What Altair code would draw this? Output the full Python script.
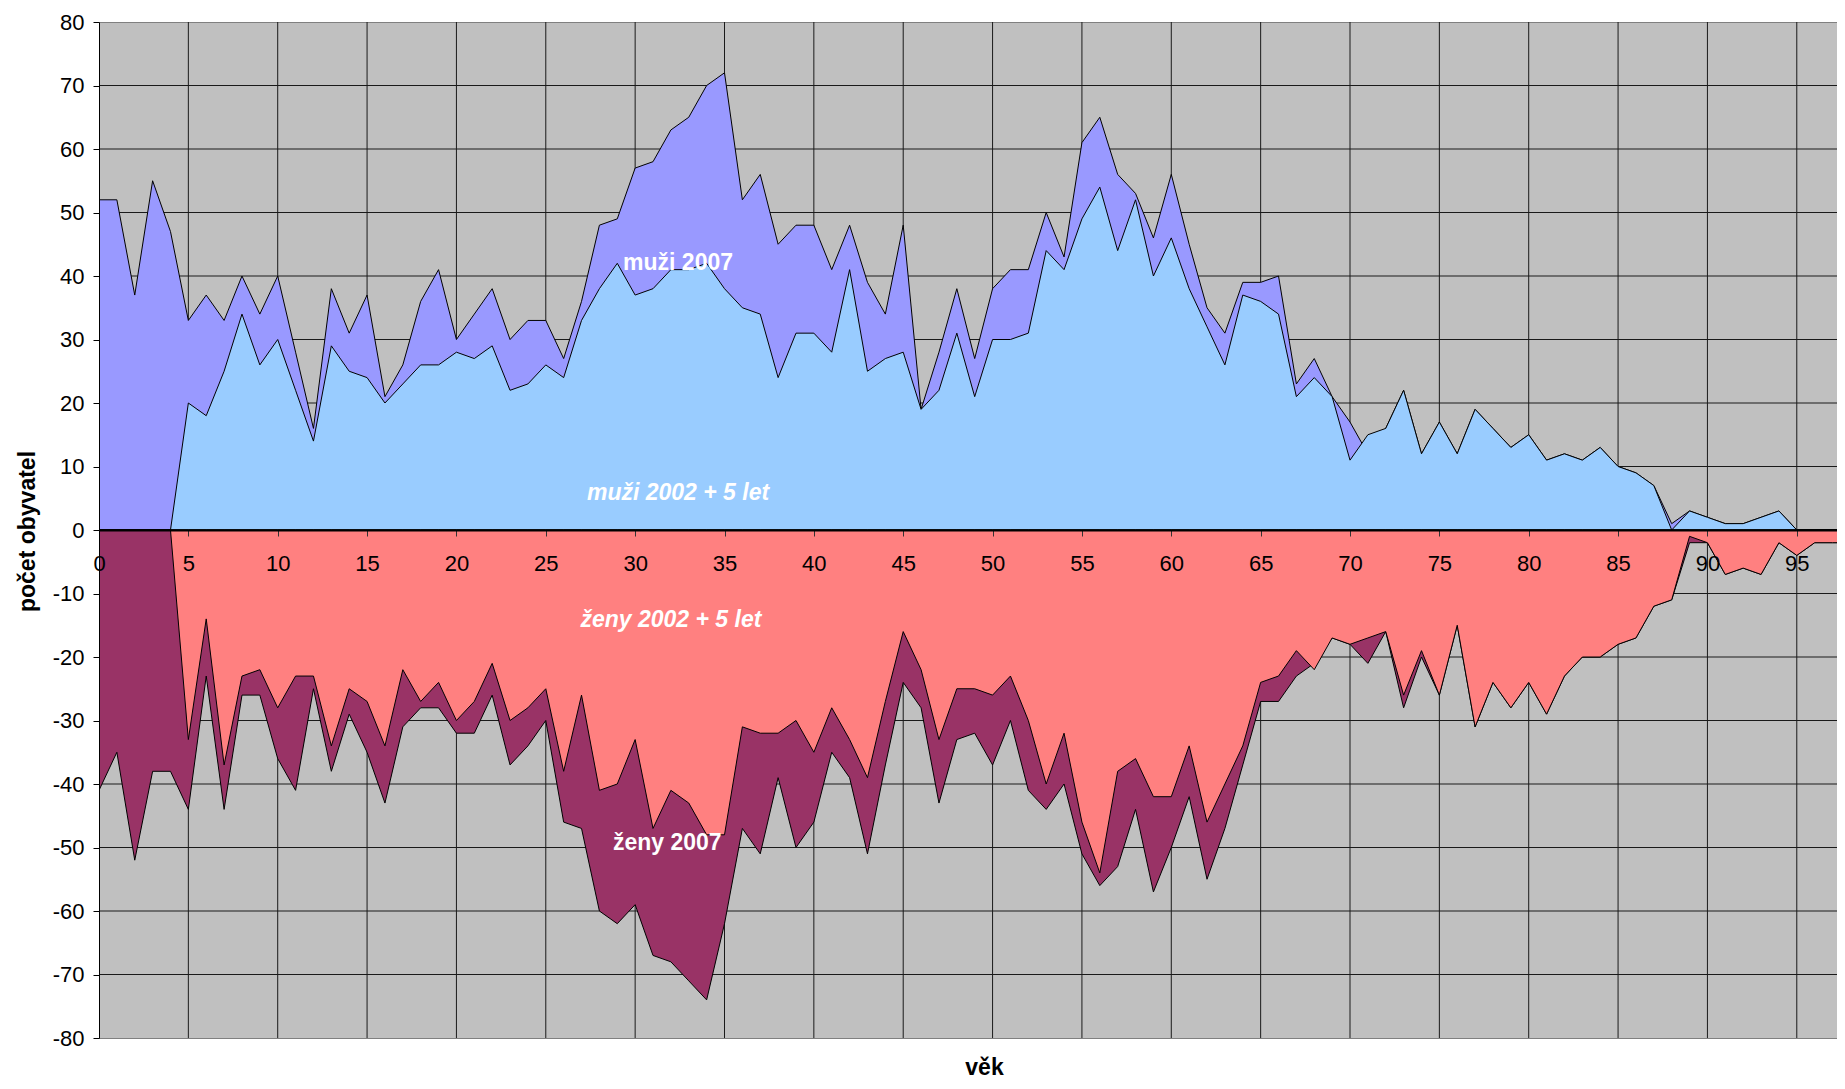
import altair as alt
import pandas as pd

ages = list(range(99))

muzi_2007 = [52, 52, 37, 55, 47, 33, 37, 33, 40, 34, 40, 28, 16, 38, 31, 37, 21, 26, 36, 41,
             30, 34, 38, 30, 33, 33, 27, 36, 48, 49, 57, 58, 63, 65, 70, 72, 52, 56, 45, 48,
             48, 41, 48, 39, 34, 48, 19, 28, 38, 27, 38, 41, 41, 50, 43, 61, 65, 56, 53, 46,
             56, 45, 35, 31, 39, 39, 40, 23, 27, 21, 17, 12, 16, 22, 12, 17, 12, 19, 16, 13,
             15, 11, 12, 11, 13, 10, 9, 7, 1, 3, 2, 1, 1, 2, 3, 0, 0, 0, 0]

muzi_2002_5 = [0, 0, 0, 0, 0, 20, 18, 25, 34, 26, 30, 22, 14, 29, 25, 24, 20, 23, 26, 26,
               28, 27, 29, 22, 23, 26, 24, 33, 38, 42, 37, 38, 41, 41, 42, 38, 35, 34, 24, 31,
               31, 28, 41, 25, 27, 28, 19, 22, 31, 21, 30, 30, 31, 44, 41, 49, 54, 44, 52, 40,
               46, 38, 32, 26, 37, 36, 34, 21, 24, 21, 11, 15, 16, 22, 12, 17, 12, 19, 16, 13,
               15, 11, 12, 11, 13, 10, 9, 7, 0, 3, 2, 1, 1, 2, 3, 0, 0, 0, 0]

zeny_2007 = [-41, -35, -52, -38, -38, -44, -23, -44, -26, -26, -36, -41, -25, -38, -29, -35, -43, -31, -28, -28,
             -32, -32, -26, -37, -34, -30, -46, -47, -60, -62, -59, -67, -68, -71, -74, -62, -47, -51, -39, -50,
             -46, -35, -39, -51, -37, -24, -28, -43, -33, -32, -37, -30, -41, -44, -40, -51, -56, -53, -44, -57,
             -50, -42, -55, -47, -37, -27, -27, -23, -21, -17, -18, -21, -16, -28, -20, -26, -15, -31, -24, -28,
             -24, -29, -23, -20, -20, -18, -17, -12, -11, -2, -2, -7, -6, -7, -2, -4, -2, -2, -2]

zeny_2002_5 = [0, 0, 0, 0, 0, -33, -14, -37, -23, -22, -28, -23, -23, -34, -25, -27, -34, -22, -27, -24,
               -30, -27, -21, -30, -28, -25, -38, -26, -41, -40, -33, -47, -41, -43, -48, -48, -31, -32, -32, -30,
               -35, -28, -33, -39, -27, -16, -22, -33, -25, -25, -26, -23, -30, -40, -32, -46, -54, -38, -36, -42,
               -42, -34, -46, -40, -34, -24, -23, -19, -22, -17, -18, -17, -16, -26, -19, -26, -15, -31, -24, -28,
               -24, -29, -23, -20, -20, -18, -17, -12, -11, -1, -2, -7, -6, -7, -2, -4, -2, -2, -2]

x_ticks = list(range(0, 96, 5))
y_ticks = list(range(-80, 81, 10))

label_text = ["muži 2007", "muži 2002 + 5 let", "ženy 2002 + 5 let", "ženy 2007"]
label_age = [32.4, 32.4, 32.0, 31.8]
label_value = [40.9, 4.8, -15.3, -50.4]
label_style = ["normal", "italic", "italic", "normal"]

FONT = "Liberation Sans"
W, H = 1738, 1016

xscale = alt.Scale(domain=[0, 97.25], nice=False, zero=False)
yscale = alt.Scale(domain=[-80, 80], nice=False)

xaxis = alt.Axis(values=x_ticks, grid=False, offset=-H / 2, zindex=1,
                 domainColor="black", domainWidth=2,
                 tickColor="#333333", tickSize=6, tickWidth=1,
                 labelFont=FONT, labelFontSize=22, labelColor="black",
                 labelBaseline="middle", labelPadding=27, labelAngle=0,
                 labelFlush=False, labelOverlap=False,
                 labelExpr="'' + datum.value",
                 title="věk", titleFont=FONT, titleFontSize=23, titleFontWeight="bold",
                 titleColor="black", titleX=885, titleY=544, titleBaseline="alphabetic",
                 titleAlign="center")

yaxis = alt.Axis(values=y_ticks, grid=False, zindex=1,
                 domainColor="black", domainWidth=1,
                 tickColor="black", tickSize=6, tickWidth=1,
                 labelFont=FONT, labelFontSize=22, labelColor="black",
                 labelPadding=9, labelFlush=False, labelOverlap=False,
                 labelExpr="'' + datum.value",
                 title="počet obyvatel", titleFont=FONT, titleFontSize=23,
                 titleFontWeight="bold", titleColor="black", titleAngle=270,
                 titleX=-72, titleY=H / 2 + 1, titleBaseline="middle", titleAlign="center")

X = alt.X("age:Q", scale=xscale, axis=xaxis)
Y = alt.Y("value:Q", scale=yscale, axis=yaxis)

vgrid = alt.Chart(pd.DataFrame({"age": x_ticks[1:]})).mark_rule(
    color="#1a1a1a", strokeWidth=1).encode(x=X)
hgrid = alt.Chart(pd.DataFrame({"value": y_ticks[1:-1]})).mark_rule(
    color="#1a1a1a", strokeWidth=1).encode(y=Y)


def area(values, color):
    df = pd.DataFrame({"age": ages, "value": values})
    return alt.Chart(df).mark_area(color=color, opacity=1, stroke="black",
                                   strokeWidth=1, clip=True,
                                   interpolate="linear").encode(x=X, y=Y)


a1 = area(muzi_2007, "#9999FF")
a2 = area(muzi_2002_5, "#99CCFF")
a3 = area(zeny_2007, "#993366")
a4 = area(zeny_2002_5, "#FF8080")

labels_df = pd.DataFrame({"age": label_age, "value": label_value,
                          "label": label_text, "style": label_style})

txt_normal = alt.Chart(labels_df).transform_filter(
    alt.datum.style == "normal").mark_text(
    font=FONT, fontSize=23, fontWeight="bold", color="white",
    align="center", baseline="alphabetic").encode(x=X, y=Y, text="label:N")

txt_italic = alt.Chart(labels_df).transform_filter(
    alt.datum.style == "italic").mark_text(
    font=FONT, fontSize=23, fontWeight="bold", fontStyle="italic", color="white",
    align="center", baseline="alphabetic").encode(x=X, y=Y, text="label:N")

chart = alt.layer(vgrid, hgrid, a1, a2, a3, a4, txt_normal, txt_italic).properties(
    width=W, height=H,
    autosize=alt.AutoSizeParams(type="none"),
    padding={"left": 91, "top": 14, "right": 0, "bottom": 43},
    background="white",
).configure_view(fill="#C0C0C0", stroke="#808080", strokeWidth=1)

chart.save("out.html", embed_options={"renderer": "svg", "actions": False})
